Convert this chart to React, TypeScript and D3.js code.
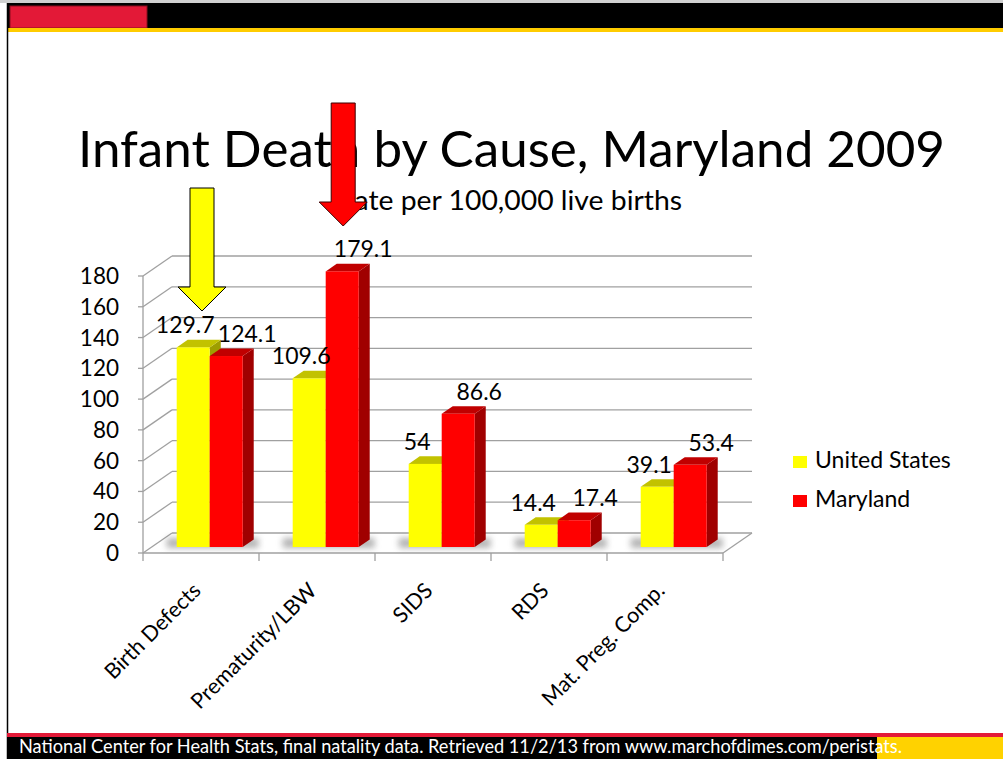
import * as d3 from "d3";

const W = 1003;
const H = 759;
const FONT = "Lato, 'Open Sans', sans-serif";

// data
const categories = ["Birth Defects", "Prematurity/LBW", "SIDS", "RDS", "Mat. Preg. Comp."];
const seriesNames = ["United States", "Maryland"];
const usRates = [129.7, 109.6, 54, 14.4, 39.1];
const mdRates = [124.1, 179.1, 86.6, 17.4, 53.4];
const yTicks = [0, 20, 40, 60, 80, 100, 120, 140, 160, 180];

// 3d-ish frame geometry
const X0 = 143;
const X1 = 723;
const DX = 29; // depth of the floor / left wall
const DY = -20;
const FACE = 0.3; // bars' front face sits this far back
const BAR_D = 0.38; // bar depth as part of floor depth

const FACES = [
  { front: "#FFFF00", top: "#C2C200", side: "#9E9E00" },
  { front: "#FF0000", top: "#C00000", side: "#A00000" },
];
const LABEL_DX = [-8, 21];
const GRID = "#A0A0A0";

export default function App() {
  const y = d3.scaleLinear().domain([0, 180]).range([553, 276]);
  const x = d3
    .scaleBand<string>()
    .domain(categories)
    .range([X0, X1])
    .paddingInner(0.431)
    .paddingOuter(0.2155);
  const xs = d3.scaleBand<number>().domain([0, 1]).range([0, x.bandwidth()]);
  const step = x.step();
  const rows = [usRates, mdRates];

  const fx = DX * FACE;
  const fy = DY * FACE;
  const bx = DX * BAR_D;
  const by = DY * BAR_D;

  const poly = (pts: [number, number][]) => pts.map((p) => p.join(",")).join(" ");

  const arrow = (cx: number, top: number, tip: number) => {
    const sw = 12, hw = 24, hl = 24;
    return poly([
      [cx - sw, top], [cx + sw, top], [cx + sw, tip - hl], [cx + hw, tip - hl],
      [cx, tip], [cx - hw, tip - hl], [cx - sw, tip - hl],
    ]);
  };

  return (
    <svg width={W} height={H} style={{ position: "absolute", left: 0, top: 0, background: "#fff" }} fontFamily={FONT}>
      <defs>
        <filter id="soft" x="-30%" y="-100%" width="160%" height="300%">
          <feGaussianBlur stdDeviation="3" />
        </filter>
      </defs>

      {/* slide frame */}
      <rect x={0} y={0} width={W} height={3} fill="#d0d0d0" />
      <rect x={7} y={3} width={W - 7} height={25} fill="#000" />
      <rect x={10} y={6} width={137} height={22} fill="#E31937" stroke="#8a0f1e" strokeWidth={1} />
      <rect x={7} y={28} width={W - 7} height={4} fill="#FFCC00" />
      <line x1={7.5} x2={7.5} y1={3} y2={H} stroke="#000" strokeWidth={1.5} />

      {/* title */}
      <text x={78} y={167} fontSize={50} fill="#000" textLength={867} lengthAdjust="spacingAndGlyphs">
        Infant Death by Cause, Maryland 2009
      </text>
      <text x={337} y={210} fontSize={26} fill="#000" textLength={345} lengthAdjust="spacingAndGlyphs">
        Rate per 100,000 live births
      </text>

      {/* walls and gridlines */}
      {yTicks.map((t) => (
        <g key={t} stroke={GRID} strokeWidth={1.3} fill="none">
          <line x1={X0} y1={y(t)} x2={X0 + DX} y2={y(t) + DY} />
          <line x1={X0 + DX} y1={y(t) + DY} x2={X1 + DX} y2={y(t) + DY} />
          <line x1={X0 - 5} y1={y(t)} x2={X0} y2={y(t)} />
        </g>
      ))}
      <line x1={X0} x2={X0} y1={y(0)} y2={y(180)} stroke={GRID} strokeWidth={1.3} />
      <line x1={X0} x2={X1} y1={y(0)} y2={y(0)} stroke={GRID} strokeWidth={1.5} />
      <line x1={X1} x2={X1 + DX} y1={y(0)} y2={y(0) + DY} stroke={GRID} strokeWidth={1.3} />
      {d3.range(categories.length + 1).map((i) => (
        <line key={i} x1={X0 + i * step} x2={X0 + i * step} y1={y(0)} y2={y(0) + 8} stroke={GRID} strokeWidth={1.3} />
      ))}

      {yTicks.map((t) => (
        <text key={t} x={119} y={y(t) + 8} fontSize={22.5} textAnchor="end" fill="#000">
          {t}
        </text>
      ))}

      {/* floor shadows */}
      {categories.map((c) => {
        const l = (x(c) as number) + fx;
        return (
          <rect key={c} x={l - 10} y={y(0) + fy - 9} width={x.bandwidth() + 26} height={10}
            fill="#777" opacity={0.55} filter="url(#soft)" />
        );
      })}

      {/* bars */}
      {categories.map((c, i) => (
        <g key={c}>
          {rows.map((vals, s) => {
            const l = (x(c) as number) + (xs(s) as number) + fx;
            const r = l + xs.bandwidth();
            const b = y(0) + fy;
            const t = y(vals[i]) + fy;
            const col = FACES[s];
            return (
              <g key={s}>
                <polygon points={poly([[r, b], [r + bx, b + by], [r + bx, t + by], [r, t]])} fill={col.side} />
                <polygon points={poly([[l, t], [r, t], [r + bx, t + by], [l + bx, t + by]])} fill={col.top} />
                <rect x={l} y={t} width={r - l} height={b - t} fill={col.front} />
              </g>
            );
          })}
        </g>
      ))}

      {/* value labels */}
      {categories.map((c, i) =>
        rows.map((vals, s) => {
          const cx = (x(c) as number) + (xs(s) as number) + xs.bandwidth() / 2 + fx + LABEL_DX[s];
          return (
            <text key={c + s} x={cx} y={y(vals[i]) + fy - 14} fontSize={23} textAnchor="middle" fill="#000">
              {vals[i]}
            </text>
          );
        })
      )}

      {/* category labels */}
      {categories.map((c) => {
        const cx = (x(c) as number) + x.bandwidth() / 2 + 1;
        return (
          <text key={c} transform={`translate(${cx},${592}) rotate(-45)`} fontSize={21.5} textAnchor="end" fill="#000">
            {c}
          </text>
        );
      })}

      {/* legend */}
      {seriesNames.map((n, s) => (
        <g key={n} transform={`translate(793,${456 + s * 39})`}>
          <rect x={0} y={0} width={14} height={12} fill={FACES[s].front} />
          <text x={22} y={12} fontSize={23} fill="#000">{n}</text>
        </g>
      ))}

      {/* callout arrows */}
      <polygon points={arrow((x(categories[0]) as number) + x.bandwidth() / 2 + 1, 188, 311)} fill="#FFFF00" stroke="#000" strokeWidth={1} />
      <polygon points={arrow((x(categories[1]) as number) + (xs(1) as number) + xs.bandwidth() / 2 + fx + 1, 103, 226)} fill="#FF0000" stroke="#3a0000" strokeWidth={1} />

      {/* footer */}
      <rect x={7} y={733} width={W - 7} height={4} fill="#E31937" />
      <rect x={7} y={737} width={W - 7} height={H - 737} fill="#000" />
      <rect x={877} y={737} width={W - 877} height={H - 737} fill="#FFD200" />
      <text x={19} y={753} fontSize={18.5} fill="#fff" textLength={883} lengthAdjust="spacingAndGlyphs">
        National Center for Health Stats, final natality data. Retrieved 11/2/13 from www.marchofdimes.com/peristats.
      </text>
    </svg>
  );
}
